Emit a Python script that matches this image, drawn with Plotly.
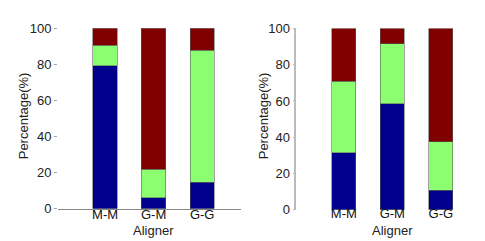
import plotly.graph_objects as go

aligners = ["M-M", "G-M", "G-G"]
# Left panel (stacked percentages)
left_blue = [79.2, 6.2, 14.7]
left_green = [11.4, 15.8, 73.0]
left_red = [9.4, 78.0, 12.3]
# Right panel
right_blue = [31.5, 58.4, 10.7]
right_green = [39.3, 33.1, 26.7]
right_red = [29.2, 8.5, 62.6]
y_ticks = [0, 20, 40, 60, 80, 100]

colors = ["rgb(0,0,140)", "rgb(140,255,112)", "rgb(128,0,0)"]
edge = dict(color="rgba(90,90,90,0.7)", width=0.8)

fig = go.Figure()
for vals, c in zip([left_blue, left_green, left_red], colors):
    fig.add_trace(go.Bar(x=aligners, y=vals, marker=dict(color=c, line=edge),
                         width=0.5, xaxis="x", yaxis="y", showlegend=False))
for vals, c in zip([right_blue, right_green, right_red], colors):
    fig.add_trace(go.Bar(x=aligners, y=vals, marker=dict(color=c, line=edge),
                         width=0.5, xaxis="x2", yaxis="y2", showlegend=False))

W, H = 485, 241
font = dict(family="Liberation Sans, Arial, sans-serif", size=13, color="#222")

fig.update_layout(
    width=W, height=H, barmode="stack",
    margin=dict(l=0, r=0, t=0, b=0),
    paper_bgcolor="white", plot_bgcolor="white",
    font=font,
    xaxis=dict(domain=[50 / W, 233 / W], range=[-0.97, 2.8], showline=True,
               linecolor="#888", linewidth=1, ticks="", showgrid=False,
               zeroline=False, anchor="y", ticklabelstandoff=-6,
               tickfont=dict(size=13, color="#111")),
    yaxis=dict(domain=[1 - 206.7 / H, 1 - 14 / H], range=[0, 100], tickvals=y_ticks,
               showline=False, ticks="outside", ticklen=3, tickcolor="#aaa",
               showgrid=False, zeroline=False, anchor="x",
               tickfont=dict(size=13, color="#222")),
    xaxis2=dict(domain=[288.3 / W, 471.6 / W], range=[-0.98, 2.8], showline=False,
                ticks="", showgrid=False, zeroline=False, anchor="y2",
                ticklabelstandoff=-6, tickfont=dict(size=13, color="#111")),
    yaxis2=dict(domain=[1 - 207.7 / H, 1 - 14.3 / H], range=[0, 100], tickvals=y_ticks,
                showline=True, linecolor="#bbb", linewidth=1.5, ticks="outside",
                ticklen=2, tickcolor="#bbb", showgrid=False, zeroline=False,
                anchor="x2", tickfont=dict(size=13, color="#222")),
)

for xc, yc in [(15, 108), (255, 108)]:
    fig.add_annotation(text="Percentage(%)", x=xc / W, y=1 - yc / H, xref="paper",
                       yref="paper", showarrow=False, textangle=-90,
                       font=dict(size=13, color="#222"), xanchor="center", yanchor="middle")
for xc, yc in [(145, 230), (384, 230)]:
    fig.add_annotation(text="Aligner", x=xc / W, y=1 - yc / H, xref="paper",
                       yref="paper", showarrow=False,
                       font=dict(size=13, color="#222"), xanchor="center", yanchor="middle")

fig.write_html("out.html")
